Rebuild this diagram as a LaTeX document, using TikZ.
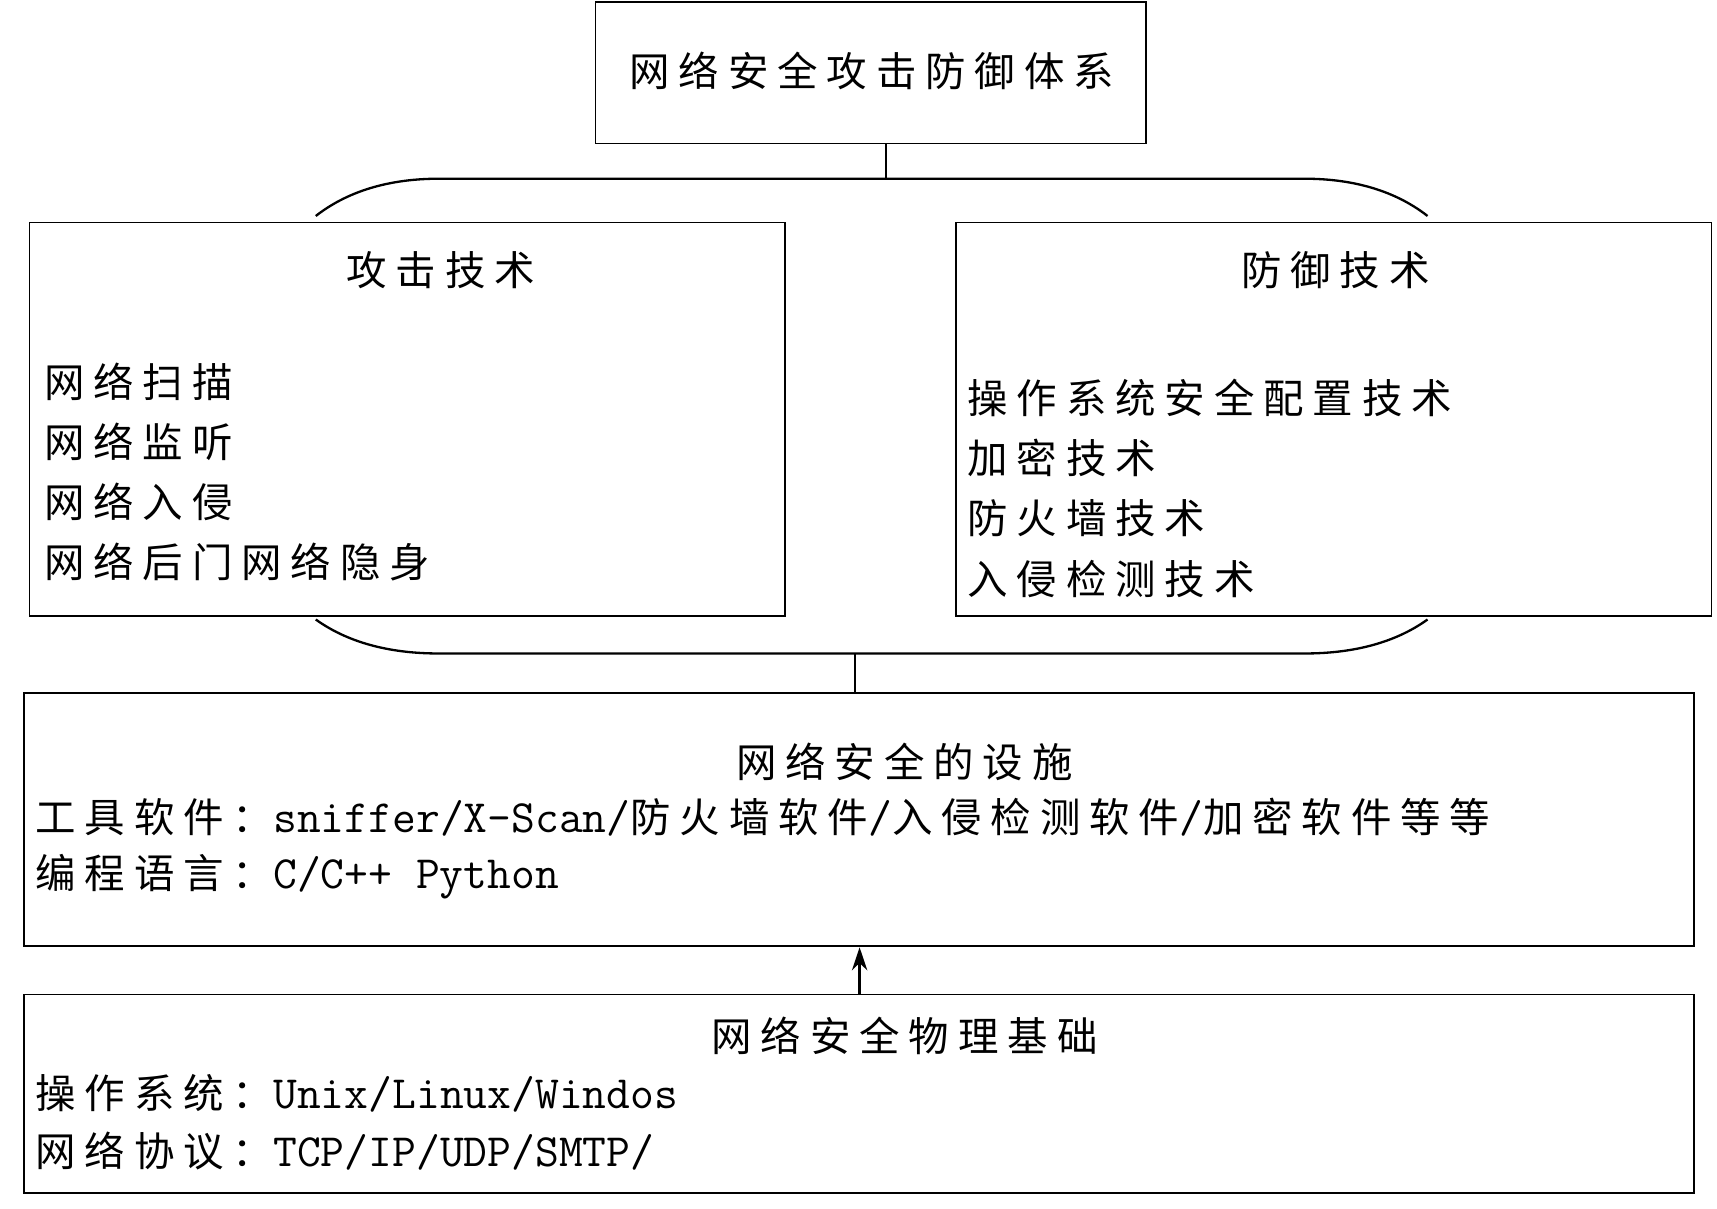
\documentclass[tikz,border=0pt]{standalone}
\usepackage{fontspec}
\newfontfamily\cjk[LetterSpace=22]{Noto Sans CJK SC}
\newcommand\lat{\ttfamily\fontsize{24}{24}\selectfont}
\usetikzlibrary{arrows.meta}
\begin{document}
\begin{tikzpicture}[x=0.02cm,y=-0.02cm,
  box/.style={draw,line width=0.8pt},
  txt/.style={inner sep=0,font=\cjk\fontsize{21}{24}\selectfont},
  ln/.style={anchor=west,inner sep=0,font=\cjk\fontsize{21}{24}\selectfont},
  con/.style={line width=1.2pt}]
\useasboundingbox (0,0) rectangle (1566,1102);
\draw[box] (543,2) rectangle (1045,131);
\node[txt] (top) at (795,65) {网络安全攻击防御体系};
\coordinate (tb) at (808,131);
\draw[box] (27,203) rectangle (716,562);
\draw[box] (872,203) rectangle (1561,562);
\node[txt] (lt) at (402,246) {攻击技术};
\node[txt] (rt) at (1218,246) {防御技术};
\node[ln] (l1) at (40,348) {网络扫描};
\node[ln] (l2) at (40,403) {网络监听};
\node[ln] (l3) at (40,458) {网络入侵};
\node[ln] (l4) at (40,513) {网络后门网络隐身};
\node[ln] (r1) at (882,363) {操作系统安全配置技术};
\node[ln] (r2) at (882,418) {加密技术};
\node[ln] (r3) at (882,473) {防火墙技术};
\node[ln] (r4) at (882,528) {入侵检测技术};
\coordinate (bt) at (808,163);
\draw[con] (288,197) .. controls (320,172) and (360,163) .. (400,163) -- (1190,163) .. controls (1230,163) and (1270,172) .. (1302,197);
\draw[con] (tb) -- (bt);
\draw[con] (288,565) .. controls (320,588) and (360,596) .. (400,596) -- (1190,596) .. controls (1230,596) and (1270,588) .. (1302,565);
\coordinate (bb) at (780,596);
\draw[box] (22,632) rectangle (1545,863);
\coordinate (mt) at (780,632);
\draw[con] (bb) -- (mt);
\node[txt] (m0) at (825,695) {网络安全的设施};
\node[ln] (m1) at (32,745) {工具软件：{\lat sniffer/X-Scan/}防火墙软件{\lat /}入侵检测软件{\lat /}加密软件等等};
\node[ln] (m2) at (32,800) {编程语言：{\lat C/C++ Python}};
\draw[box] (22,907) rectangle (1545,1088);
\coordinate (ma) at (784,907);
\coordinate (mb) at (784,864);
\draw[con,-{Stealth[length=12pt,width=8pt]}] (ma) -- (mb);
\node[txt] (b0) at (825,945) {网络安全物理基础};
\node[ln] (b1) at (32,997) {操作系统：{\lat Unix/Linux/Windos}};
\node[ln] (b2) at (32,1050) {网络协议：{\lat TCP/IP/UDP/SMTP/}};
\end{tikzpicture}
\end{document}
